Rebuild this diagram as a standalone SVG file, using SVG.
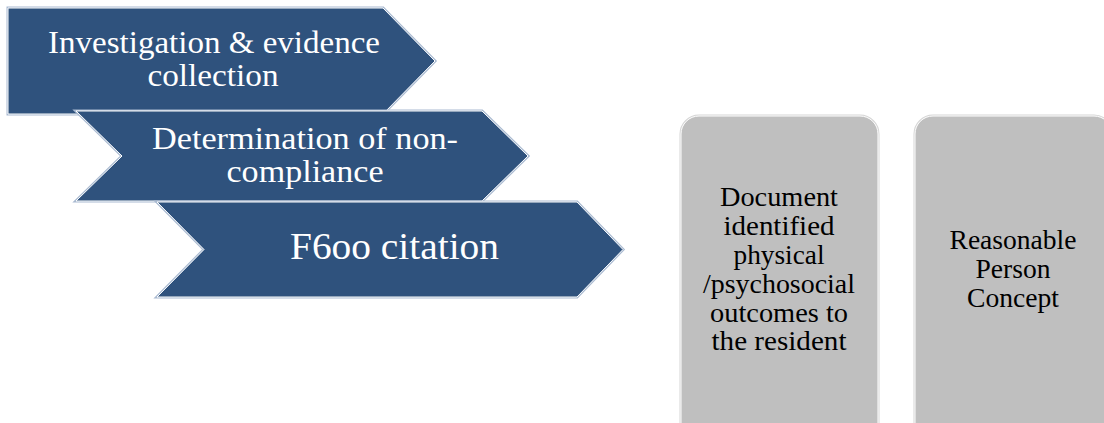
<svg xmlns="http://www.w3.org/2000/svg" width="1104" height="423" viewBox="0 0 1104 423">
<style>
.arr-o{fill:none;stroke:#a9bad1;stroke-width:3;stroke-linejoin:miter}
.arr{fill:#2f527d;stroke:#ffffff;stroke-width:1}
.box-o{fill:none;stroke:#d6d6d6;stroke-width:3}
.box{fill:#bfbfbf;stroke:#ffffff;stroke-width:1}
.wt{font-family:"Liberation Serif","DejaVu Serif",serif;fill:#ffffff;text-anchor:middle}
.bt{font-family:"Liberation Serif","DejaVu Serif",serif;fill:#000000;text-anchor:middle;font-size:27px}
</style>
<rect width="1104" height="423" fill="#ffffff"/>
<g id="step1">
<path class="arr-o" d="M8,8 L383,8 L435,61 L383,114 L8,114 Z"/>
<path class="arr" d="M8,8 L383,8 L435,61 L383,114 L8,114 Z"/>
<text class="wt" font-size="32" x="214" y="53" textLength="332" lengthAdjust="spacingAndGlyphs">Investigation &amp; evidence</text>
<text class="wt" font-size="32" x="213" y="86" textLength="131" lengthAdjust="spacingAndGlyphs">collection</text>
</g>
<g id="step2">
<path class="arr-o" d="M76,111 L482,111 L528,156 L482,201 L76,201 L122,156 Z"/>
<path class="arr" d="M76,111 L482,111 L528,156 L482,201 L76,201 L122,156 Z"/>
<text class="wt" font-size="32" x="305" y="149" textLength="306" lengthAdjust="spacingAndGlyphs">Determination of non-</text>
<text class="wt" font-size="32" x="305" y="182" textLength="157" lengthAdjust="spacingAndGlyphs">compliance</text>
</g>
<g id="step3">
<path class="arr-o" d="M157,202 L577,202 L623,249.5 L577,297 L157,297 L204,249.5 Z"/>
<path class="arr" d="M157,202 L577,202 L623,249.5 L577,297 L157,297 L204,249.5 Z"/>
<text class="wt" font-size="38" x="394.5" y="259" textLength="209" lengthAdjust="spacingAndGlyphs">F6oo citation</text>
</g>
<g id="box1">
<rect class="box-o" x="681" y="116" width="197" height="330" rx="18"/>
<rect class="box" x="681" y="116" width="197" height="330" rx="18"/>
<text class="bt" x="779" y="206" textLength="118" lengthAdjust="spacingAndGlyphs">Document</text>
<text class="bt" x="779" y="235" textLength="111" lengthAdjust="spacingAndGlyphs">identified</text>
<text class="bt" x="779" y="264" textLength="91" lengthAdjust="spacingAndGlyphs">physical</text>
<text class="bt" x="779" y="293" textLength="152" lengthAdjust="spacingAndGlyphs">/psychosocial</text>
<text class="bt" x="779" y="322" textLength="138" lengthAdjust="spacingAndGlyphs">outcomes to</text>
<text class="bt" x="779" y="350" textLength="135" lengthAdjust="spacingAndGlyphs">the resident</text>
</g>
<g id="box2">
<rect class="box-o" x="915" y="116" width="197" height="330" rx="18"/>
<rect class="box" x="915" y="116" width="197" height="330" rx="18"/>
<text class="bt" x="1013" y="249" textLength="127" lengthAdjust="spacingAndGlyphs">Reasonable</text>
<text class="bt" x="1013" y="278" textLength="75" lengthAdjust="spacingAndGlyphs">Person</text>
<text class="bt" x="1013" y="307" textLength="92" lengthAdjust="spacingAndGlyphs">Concept</text>
</g>
<g id="connectors"></g>
</svg>
